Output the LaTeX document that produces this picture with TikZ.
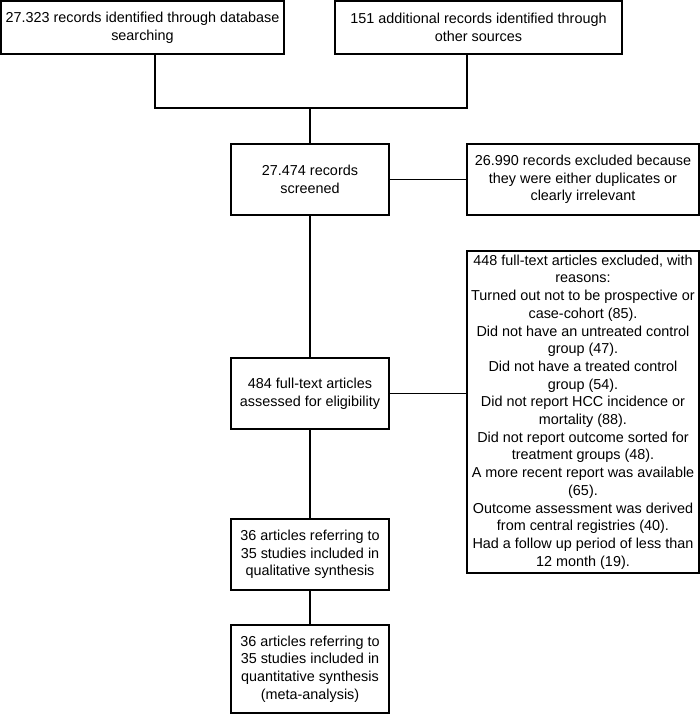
\documentclass[tikz,border=0pt]{standalone}
\usepackage{fontspec}
\setmainfont{Liberation Sans}
\usetikzlibrary{positioning}

\begin{document}
\begin{tikzpicture}[x=1pt,y=-1pt,
  box/.style={draw,line width=1.2pt,inner sep=0pt,align=center,
    font=\fontsize{14.4}{17.7}\selectfont},
  wide/.style={box,minimum height=53pt},
  mid/.style={box,minimum width=158pt,minimum height=71pt},
  link/.style={line width=1.2pt}]
\useasboundingbox (0,0) rectangle (700,716);
\node[wide,minimum width=283pt] (dbrecords) at (142.5,27.5) {27.323 records identified through database\\searching};
\node[wide,minimum width=287pt] (otherrecords) at (478.5,27.5) {151 additional records identified through\\other sources};
\node[mid] (screened) at (310,179.5) {27.474 records\\screened};
\node[box,minimum width=232pt,minimum height=71pt] (excluded) at (583,179.5) {26.990 records excluded because\\they were either duplicates or\\clearly irrelevant};
\node[mid] (fulltext) at (310,393.5) {484 full-text articles\\assessed for eligibility};
\node[box,minimum width=232pt,minimum height=322pt] (reasons) at (583,412) {448 full-text articles excluded, with\\reasons:\\Turned out not to be prospective or\\case-cohort (85).\\Did not have an untreated control\\group (47).\\Did not have a treated control\\group (54).\\Did not report HCC incidence or\\mortality (88).\\Did not report outcome sorted for\\treatment groups (48).\\A more recent report was available\\(65).\\Outcome assessment was derived\\from central registries (40).\\Had a follow up period of less than\\12 month (19).};
\node[mid] (qualitative) at (310,554.5) {36 articles referring to\\35 studies included in\\qualitative synthesis};
\node[mid,minimum height=88pt] (quantitative) at (310,669) {36 articles referring to\\35 studies included in\\quantitative synthesis\\(meta-analysis)};
\coordinate (join) at (310,108);
\draw[link] ([xshift=12.5pt]dbrecords.south) |- (join) -| ([xshift=-11.5pt]otherrecords.south);
\draw[link] (join) -- (screened.north);
\draw[link] (screened.east) -- (excluded.west);
\draw[link] (screened.south) -- (fulltext.north);
\draw[link] (fulltext.east) -- (fulltext.east -| reasons.west);
\draw[link] (fulltext.south) -- (qualitative.north);
\draw[link] (qualitative.south) -- (quantitative.north);
\end{tikzpicture}
\end{document}
